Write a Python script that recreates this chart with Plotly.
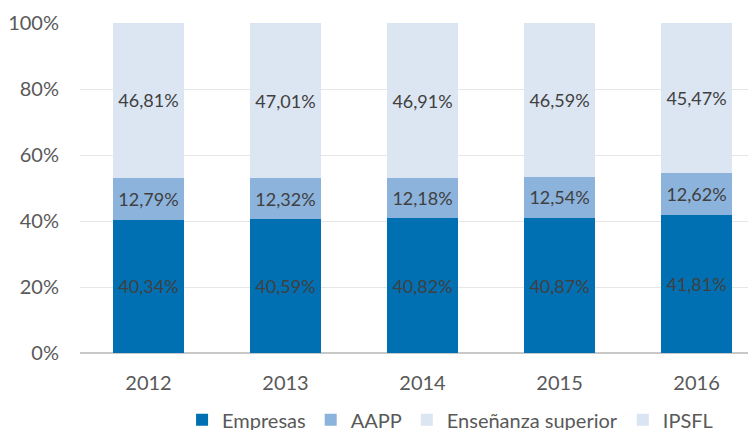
import plotly.graph_objects as go

years = ["2012", "2013", "2014", "2015", "2016"]
empresas = [40.34, 40.59, 40.82, 40.87, 41.81]
aapp = [12.79, 12.32, 12.18, 12.54, 12.62]
ens_superior = [46.81, 47.01, 46.91, 46.59, 45.47]
ipsfl = [0.06, 0.08, 0.09, 0.00, 0.10]

series = [
    ("Empresas", empresas, "#0070b2", True),
    ("AAPP", aapp, "#8cb3dc", True),
    ("Enseñanza superior", ens_superior, "#dce6f2", True),
    ("IPSFL", ipsfl, "#d9e5f2", False),
]

FONT = "Lato, sans-serif"


def fmt(v):
    return f"{v:.2f}".replace(".", ",") + "%"


fig = go.Figure()
for name, vals, color, labelled in series:
    fig.add_trace(
        go.Bar(
            x=years,
            y=vals,
            name=name,
            marker=dict(color=color, line=dict(width=0)),
            text=[fmt(v) for v in vals] if labelled else None,
            textposition="inside" if labelled else "none",
            insidetextanchor="middle",
            textangle=0,
            textfont=dict(color="#404040", size=18, family=FONT),
            hovertemplate="%{x}: %{y:.2f}%<extra>" + name + "</extra>",
        )
    )

# the page has an 8px body margin, so the figure is a bit smaller than the window
fig.update_layout(
    barmode="stack",
    bargap=0.48,
    width=748,
    height=422,
    margin=dict(l=72, r=0, t=15, b=77, autoexpand=False),
    plot_bgcolor="white",
    paper_bgcolor="white",
    separators=",.",
    font=dict(family=FONT, color="#595959", size=19),
    showlegend=True,
    legend=dict(
        orientation="h",
        xref="container",
        yref="container",
        x=0.591,
        xanchor="center",
        y=0.024,
        yanchor="middle",
        font=dict(size=20, color="#595959"),
        itemsizing="constant",
        traceorder="normal",
        itemwidth=30,
    ),
    uniformtext=dict(minsize=10, mode="show"),
)

fig.update_xaxes(
    type="category",
    range=[-0.5, 4.434],
    showgrid=False,
    showline=False,
    ticks="",
    ticklabelstandoff=16,
    tickfont=dict(size=20, color="#595959"),
)

fig.update_yaxes(
    range=[0, 100],
    dtick=20,
    ticksuffix="%",
    showgrid=True,
    gridcolor="#e6e6e6",
    gridwidth=1,
    zeroline=True,
    zerolinecolor="#c8c8c8",
    zerolinewidth=2,
    showline=False,
    ticks="",
    ticklabelstandoff=20,
    tickfont=dict(size=20, color="#595959"),
)

fig.write_html("out.html")
